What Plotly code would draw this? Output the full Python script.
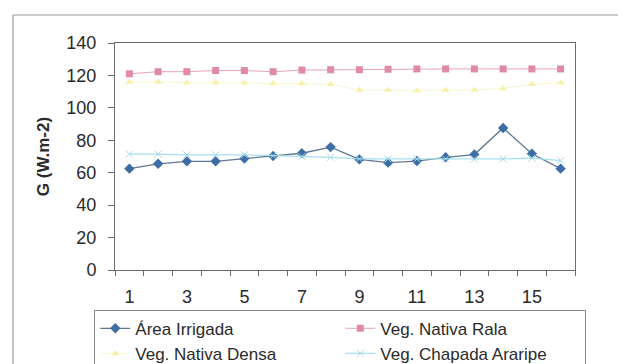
import plotly.graph_objects as go

days = list(range(1, 17))
area_irrigada = [62.5, 65.5, 67, 67, 68.7, 70.3, 72, 75.8, 68.2, 66.2, 67.2, 69.5, 71.2, 87.6, 71.7, 62.5]
nativa_rala = [121, 122.3, 122.3, 123, 123, 122.3, 123.3, 123.5, 123.5, 123.8, 124, 124, 124, 124, 124, 124]
nativa_densa = [116, 116, 115.5, 115.5, 115.5, 115, 115, 114.5, 111, 111, 110.5, 111, 111, 112, 114.5, 115.5]
chapada_araripe = [71.5, 71.5, 71, 71, 71, 70.5, 70, 69.5, 68.5, 68.5, 68.5, 68.5, 68.5, 68.5, 69, 67.5]
x_tick_vals = [1, 3, 5, 7, 9, 11, 13, 15]
y_tick_vals = [0, 20, 40, 60, 80, 100, 120, 140]

fig = go.Figure()
fig.add_trace(go.Scatter(x=days, y=area_irrigada, name="Área Irrigada", mode="lines+markers",
                         line=dict(color="#5f7893", width=1.3),
                         marker=dict(symbol="diamond", size=8, color="#3d6da3")))
fig.add_trace(go.Scatter(x=days, y=nativa_rala, name="Veg. Nativa Rala", mode="lines+markers",
                         line=dict(color="#e7a3b8", width=1),
                         marker=dict(symbol="square", size=7, color="#e08aa6")))
fig.add_trace(go.Scatter(x=days, y=nativa_densa, name="Veg. Nativa Densa", mode="lines+markers",
                         line=dict(color="#f9f6cf", width=1),
                         marker=dict(symbol="triangle-up", size=7, color="#f6f0a8")))
fig.add_trace(go.Scatter(x=days, y=chapada_araripe, name="Veg. Chapada Araripe", mode="lines+markers",
                         line=dict(color="#a6e0ef", width=1.2),
                         marker=dict(symbol="x-thin-open", size=7, color="#9fd8ea", line=dict(width=1, color="#9fd8ea"))))

fig.update_layout(
    width=618, height=356,
    margin=dict(l=107, r=51, t=35, b=94, autoexpand=False),
    paper_bgcolor="white", plot_bgcolor="white",
    font=dict(family="Liberation Sans, Arial, sans-serif", size=18, color="#2a2a2a"),
    showlegend=True,
    legend=dict(orientation="h", x=-0.045, y=-0.175, xanchor="left", yanchor="top",
                entrywidth=200, entrywidthmode="pixels", maxheight=200,
                bgcolor="white", bordercolor="#8a8a8a", borderwidth=1,
                font=dict(size=17, color="#2a2a2a"), tracegroupgap=0),
    xaxis=dict(range=[0.5, 16.5], tickmode="array", tickvals=x_tick_vals,
               ticks="", showgrid=False, zeroline=False,
               showline=True, linecolor="#6b6b6b", linewidth=1, mirror=True,
               ticklabelstandoff=10,
               minor=dict(tickmode="linear", tick0=0.5, dtick=1, ticks="outside",
                          ticklen=5, tickcolor="#6b6b6b", showgrid=False)),
    yaxis=dict(range=[0, 140], tickmode="array", tickvals=y_tick_vals,
               ticks="outside", ticklen=6, tickcolor="#6b6b6b",
               showgrid=False, zeroline=False,
               showline=True, linecolor="#6b6b6b", linewidth=1, mirror=True,
               ticklabelstandoff=8,
               title=dict(text="<b>G (W.m-2)</b>", font=dict(size=17, color="#2a2a2a"), standoff=12)),
)

# outer chart-area border (top and left)
fig.add_shape(type="line", xref="paper", yref="paper", x0=-0.2217, x1=1.2, y0=1.1233, y1=1.1233,
              line=dict(color="#9a9a9a", width=1.2))
fig.add_shape(type="line", xref="paper", yref="paper", x0=-0.2217, x1=-0.2217, y0=1.1233, y1=-0.5,
              line=dict(color="#9a9a9a", width=1.2))

fig.write_html("out.html")
